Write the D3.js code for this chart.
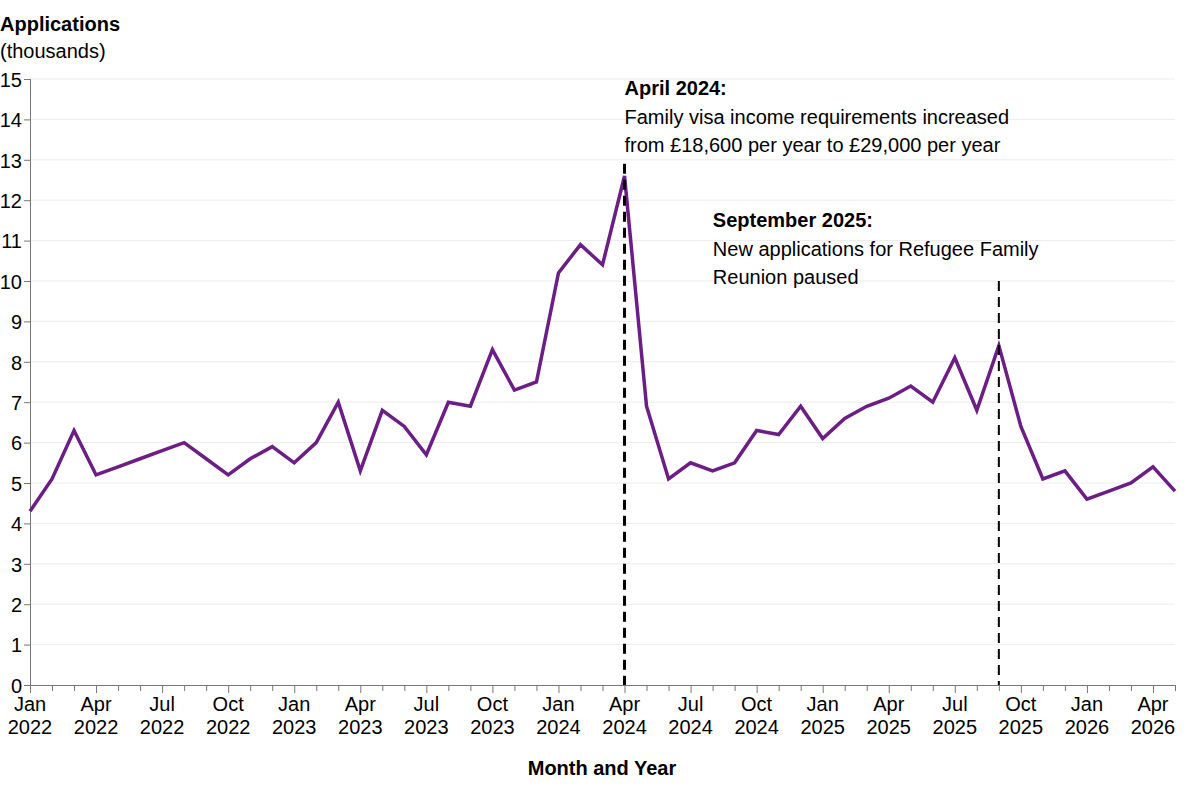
<!DOCTYPE html>
<html>
<head>
<meta charset="utf-8">
<script src="https://cdn.jsdelivr.net/npm/d3@7"></script>
<style>
  body { margin: 0; background: #fff; }
  svg { font-family: "Liberation Sans", Arial, sans-serif; }
</style>
</head>
<body>
<svg id="chart" width="1200" height="800"></svg>
<script>
// monthly applications, thousands, Jan 2022 .. May 2026
const values2022 = [4.3, 5.1, 6.3, 5.2, 5.4, 5.6, 5.8, 6.0, 5.6, 5.2, 5.6, 5.9]
const values2023 = [5.5, 6.0, 7.0, 5.3, 6.8, 6.4, 5.7, 7.0, 6.9, 8.3, 7.3, 7.5]
const values2024 = [10.2, 10.9, 10.4, 12.6, 6.9, 5.1, 5.5, 5.3, 5.5, 6.3, 6.2, 6.9]
const values2025 = [6.1, 6.6, 6.9, 7.1, 7.4, 7.0, 8.1, 6.8, 8.4, 6.4, 5.1, 5.3]
const values2026 = [4.6, 4.8, 5.0, 5.4, 4.8]
const startMonth = new Date(2022, 0, 1)

const yTicks = d3.range(0, 16)
const tickMonths = ['Jan', 'Apr', 'Jul', 'Oct']

const events = [
    { month: '2024-04', top: 12.9, title: 'April 2024:',
      lines: ['Family visa income requirements increased', 'from £18,600 per year to £29,000 per year'] },
    { month: '2025-09', top: 10.0, title: 'September 2025:',
      lines: ['New applications for Refugee Family', 'Reunion paused'] }
]

const values = [].concat(values2022, values2023, values2024, values2025, values2026)
const fmtKey = d3.timeFormat('%Y-%m')
const months = values.map((v, i) => fmtKey(d3.timeMonth.offset(startMonth, i)))
const data = months.map((m, i) => ({ month: m, val: values[i] }))

const svg = d3.select('#chart')
const plotLeft = 30, plotRight = 1175, plotTop = 79, plotBottom = 685
const fs = 20

const x = d3.scalePoint().domain(months).range([plotLeft, plotRight])
const y = d3.scaleLinear().domain([0, 15]).range([plotBottom, plotTop])

// gridlines
svg.append('g')
    .selectAll('line')
    .data(yTicks.slice(1))
    .enter()
    .append('line')
    .attr('x1', plotLeft).attr('x2', plotRight)
    .attr('y1', d => y(d)).attr('y2', d => y(d))
    .attr('stroke', '#ececec')
    .attr('stroke-width', 1)

// y axis
const yAxis = svg.append('g')
    .attr('transform', `translate(${plotLeft},0)`)
    .call(d3.axisLeft(y).tickValues(yTicks).tickSize(6).tickPadding(2))
yAxis.select('.domain').attr('stroke', '#777').attr('d', `M0.5,${plotTop}V${plotBottom}`)
yAxis.selectAll('.tick line').attr('stroke', '#777')
yAxis.selectAll('.tick text')
    .attr('font-size', fs).attr('fill', '#000')
    .attr('dy', '0.36em')

// x axis
const parse = d3.timeParse('%Y-%m')
const monName = d3.timeFormat('%b')
const xAxis = svg.append('g')
    .attr('transform', `translate(0,${plotBottom})`)
    .call(d3.axisBottom(x).tickSize(6).tickFormat(''))
xAxis.select('.domain').attr('stroke', '#777').attr('d', `M${plotLeft},0.5H${plotRight}`)
xAxis.selectAll('.tick line').attr('stroke', '#777')
    .attr('y2', d => tickMonths.includes(monName(parse(d))) ? 8 : 6)

const labelled = months.filter(m => tickMonths.includes(monName(parse(m))))
const xl = svg.append('g')
    .selectAll('text')
    .data(labelled)
    .enter()
    .append('text')
    .attr('text-anchor', 'middle')
    .attr('font-size', fs)
    .attr('fill', '#000')
xl.append('tspan')
    .attr('x', d => x(d)).attr('y', 711)
    .text(d => monName(parse(d)))
xl.append('tspan')
    .attr('x', d => x(d)).attr('y', 734)
    .text(d => d3.timeFormat('%Y')(parse(d)))

// axis titles
svg.append('text').attr('x', 0).attr('y', 31)
    .attr('font-size', fs).attr('font-weight', 'bold').text('Applications')
svg.append('text').attr('x', 0).attr('y', 58)
    .attr('font-size', fs).text('(thousands)')
svg.append('text').attr('x', 602).attr('y', 775)
    .attr('text-anchor', 'middle')
    .attr('font-size', fs).attr('font-weight', 'bold').text('Month and Year')

// the line
const line = d3.line().x(d => x(d.month)).y(d => y(d.val))
svg.append('path')
    .datum(data)
    .attr('fill', 'none')
    .attr('stroke', '#6c1d86')
    .attr('stroke-width', 3.5)
    .attr('stroke-linejoin', 'miter')
    .attr('d', line)

// event markers
const ev = svg.append('g')
    .selectAll('g')
    .data(events)
    .enter()
    .append('g')

ev.append('line')
    .attr('x1', d => x(d.month)).attr('x2', d => x(d.month))
    .attr('y1', d => y(d.top)).attr('y2', plotBottom)
    .attr('stroke', '#000')
    .attr('stroke-width', (d, i) => i === 0 ? 3 : 2)
    .attr('stroke-dasharray', '10,6')

const textPos = [{ dx: 0, y: 95 }, { dx: -286, y: 227 }]
ev.append('text')
    .attr('x', (d, i) => x(d.month) + textPos[i].dx)
    .attr('y', (d, i) => textPos[i].y)
    .attr('font-size', fs).attr('font-weight', 'bold')
    .text(d => d.title)
ev.each(function (d, i) {
    d3.select(this).selectAll('text.body')
        .data(d.lines)
        .enter()
        .append('text')
        .attr('class', 'body')
        .attr('x', x(d.month) + textPos[i].dx)
        .attr('y', (t, j) => textPos[i].y + 29 + j * 28)
        .attr('font-size', fs)
        .text(t => t)
})
</script>
</body>
</html>
